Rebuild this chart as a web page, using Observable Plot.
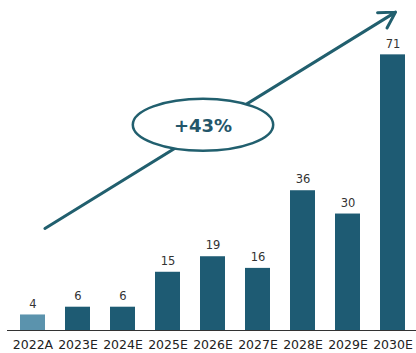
<!DOCTYPE html>
<html>
<head>
<meta charset="utf-8">
<script src="https://cdn.jsdelivr.net/npm/d3@7"></script>
<script src="https://cdn.jsdelivr.net/npm/@observablehq/plot@0.6"></script>
<style>
  html, body { margin: 0; padding: 0; background: #fff; }
  #chart { width: 416px; height: 353px; }
</style>
</head>
<body>
<div id="chart"></div>
<script>
const years = ["2022A", "2023E", "2024E", "2025E", "2026E", "2027E", "2028E", "2029E", "2030E"];
const values = [4, 6, 6, 15, 19, 16, 36, 30, 71];
const kinds = ["actual", "estimate", "estimate", "estimate", "estimate", "estimate", "estimate", "estimate", "estimate"];

// growth annotation (in data units)
const arrowFrom = {year: "2022A", value: 24.4};
const arrowTo = {year: "2030E", value: 81.6};
const cagrLabel = "+43%";
const cagrAt = {year: "2026E", value: 53.0};

const data = years.map((y, i) => ({year: y, value: values[i], kind: kinds[i]}));

const darkBlue = "#1e5b73";
const lightBlue = "#5b93ad";
const teal = "#215f6e";

// ellipse symbol for the CAGR bubble
const ellipse = {
  draw(ctx, size) {
    const r = Math.sqrt(size / Math.PI);
    const rx = r * 2.7, ry = r;
    const k = 0.5523;
    ctx.moveTo(rx, 0);
    ctx.bezierCurveTo(rx, ry * k, rx * k, ry, 0, ry);
    ctx.bezierCurveTo(-rx * k, ry, -rx, ry * k, -rx, 0);
    ctx.bezierCurveTo(-rx, -ry * k, -rx * k, -ry, 0, -ry);
    ctx.bezierCurveTo(rx * k, -ry, rx, -ry * k, rx, 0);
    ctx.closePath();
  }
};

const chart = Plot.plot({
  width: 416,
  height: 353,
  marginLeft: 16,
  marginRight: 7,
  marginTop: 0,
  marginBottom: 23,
  style: {fontFamily: "DejaVu Sans, sans-serif", background: "#fff"},
  x: {domain: years, paddingInner: 0.455, paddingOuter: 0, label: null},
  y: {domain: [0, 85], axis: null},
  color: {domain: ["actual", "estimate"], range: [lightBlue, darkBlue]},
  marks: [
    Plot.barY(data, {x: "year", y: "value", fill: "kind"}),
    Plot.ruleY([0], {stroke: "#333", strokeWidth: 1.2, insetLeft: -9, insetRight: -7}),
    Plot.text(data, {x: "year", y: "value", text: d => String(d.value), dy: -11, fill: "#333", fontSize: 11.5}),
    Plot.axisX({tickSize: 0, tickPadding: 10, fontSize: 12.5, fill: "#222", label: null}),
    Plot.arrow([0], {
      x1: () => arrowFrom.year, y1: () => arrowFrom.value,
      x2: () => arrowTo.year, y2: () => arrowTo.value,
      stroke: teal, strokeWidth: 3, insetStart: 14, insetEnd: -3, headLength: 9
    }),
    Plot.dot([cagrAt], {
      x: "year", y: "value", dx: -10, r: 26, symbol: ellipse,
      fill: "#fff", stroke: teal, strokeWidth: 2.5
    }),
    Plot.text([cagrAt], {
      x: "year", y: "value", dx: -10, dy: 1, text: () => cagrLabel,
      fontSize: 18, fontWeight: "bold", fill: "#24566a"
    })
  ]
});
document.getElementById("chart").appendChild(chart);
</script>
</body>
</html>
